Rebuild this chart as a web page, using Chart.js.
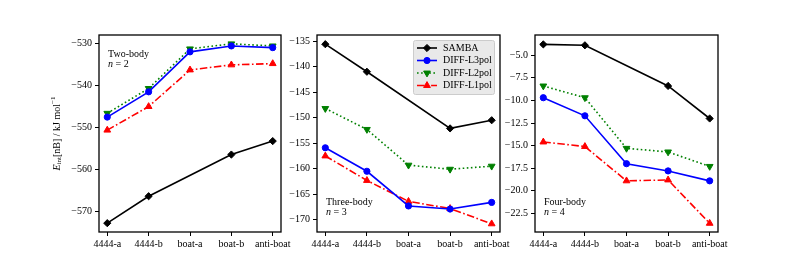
<!DOCTYPE html>
<html>
<head>
<meta charset="utf-8">
<script src="https://cdn.jsdelivr.net/npm/chart.js@4"></script>
<style>
  html, body { margin: 0; padding: 0; background: #fff; }
  body { width: 797px; height: 266px; position: relative; overflow: hidden; }
  canvas { position: absolute; }
</style>
</head>
<body>
<canvas id="c2" width="256" height="236" style="left:40px;top:26px"></canvas>
<canvas id="c3" width="238" height="236" style="left:277px;top:26px"></canvas>
<canvas id="c4" width="238" height="236" style="left:495px;top:26px"></canvas>
<script>
// categories on the x axis
const categories = ['4444-a', '4444-b', 'boat-a', 'boat-b', 'anti-boat'];

// two-body (n = 2)
const samba2 = [-572.7, -566.3, null, -556.4, -553.2];
const l3pol2 = [-547.5, -541.5, -532.0, -530.6, -531.0];
const l2pol2 = [-546.6, -540.7, -531.3, -530.1, -530.6];
const l1pol2 = [-550.6, -545.0, -536.3, -535.1, -534.8];

// three-body (n = 3)
const samba3 = [-135.6, -141.0, null, -152.1, -150.5];
const l3pol3 = [-155.9, -160.5, -167.3, -167.9, -166.6];
const l2pol3 = [-148.2, -152.3, -159.3, -160.1, -159.5];
const l1pol3 = [-157.5, -162.3, -166.4, -167.8, -170.8];

// four-body (n = 4)
const samba4 = [-3.8, -3.9, null, -8.4, -12.0];
const l3pol4 = [-9.7, -11.7, -17.0, -17.8, -18.9];
const l2pol4 = [-8.4, -9.7, -15.3, -15.7, -17.3];
const l1pol4 = [-14.6, -15.1, -18.9, -18.8, -23.6];

// tick labels
const yTicks2 = [-570, -560, -550, -540, -530];
const yTicks3 = [-170, -165, -160, -155, -150, -145, -140, -135];
const yTicks4 = [-22.5, -20, -17.5, -15, -12.5, -10, -7.5, -5];

const FONT = '"Liberation Serif", "DejaVu Serif", serif';
const FS = 10;

function toPoints(vals) {
    return categories.map((c, i) => ({ x: i, y: vals[i] }));
}

function makeDatasets(samba, l3, l2, l1) {
    return [
        { label: 'SAMBA', data: toPoints(samba), borderColor: '#000', backgroundColor: '#000',
          pointStyle: 'rectRot', pointRadius: 3.6 },
        { label: 'DIFF-L3pol', data: toPoints(l3), borderColor: '#0000ff', backgroundColor: '#0000ff',
          pointStyle: 'circle', pointRadius: 3.1 },
        { label: 'DIFF-L2pol', data: toPoints(l2), borderColor: '#008000', backgroundColor: '#008000',
          pointStyle: 'triangle', pointRotation: 180, pointRadius: 3.9, borderDash: [1.6, 2.5] },
        { label: 'DIFF-L1pol', data: toPoints(l1), borderColor: '#ff0000', backgroundColor: '#ff0000',
          pointStyle: 'triangle', pointRadius: 3.9, borderDash: [7.5, 2.5, 1.6, 2.5] }
    ].map(d => Object.assign({ borderWidth: 1.6, pointBorderWidth: 1, spanGaps: true, clip: false }, d));
}

function minusFmt(v, dec) {
    const s = Math.abs(v).toFixed(dec);
    return v < 0 ? '\u2212' + s : s;
}

// frame, panel label and (optionally) legend / axis title
const decorPlugin = {
    id: 'decor',
    afterDraw(chart, args, opts) {
        const ctx = chart.ctx;
        const a = chart.chartArea;
        ctx.save();
        ctx.strokeStyle = '#000';
        ctx.lineWidth = 1.3;
        ctx.strokeRect(a.left, a.top, a.right - a.left, a.bottom - a.top);

        // panel label
        ctx.fillStyle = '#000';
        ctx.textBaseline = 'middle';
        ctx.textAlign = 'left';
        const x = a.left + 9;
        const y1 = opts.where === 'top' ? a.top + 19 : a.bottom - 30;
        ctx.font = FS + 'px ' + FONT;
        ctx.fillText(opts.name, x, y1);
        ctx.font = 'italic ' + FS + 'px ' + FONT;
        ctx.fillText('n', x, y1 + 10);
        const nw = ctx.measureText('n').width;
        ctx.font = FS + 'px ' + FONT;
        ctx.fillText(' = ' + opts.n, x + nw, y1 + 10);

        if (opts.legend) drawLegend(chart);
        if (opts.yTitle) drawYTitle(chart);
        ctx.restore();
    }
};

function drawLegend(chart) {
    const ctx = chart.ctx;
    const a = chart.chartArea;
    const bx = a.right - 87, by = a.top + 5, bw = 81, bh = 54;
    ctx.save();
    ctx.fillStyle = 'rgba(232,232,232,0.95)';
    ctx.strokeStyle = '#cccccc';
    ctx.lineWidth = 1;
    ctx.beginPath();
    ctx.roundRect(bx + 0.5, by + 0.5, bw, bh, 2);
    ctx.fill();
    ctx.stroke();
    chart.data.datasets.forEach((d, i) => {
        const y = by + 8 + i * 12.5;
        ctx.strokeStyle = d.borderColor;
        ctx.fillStyle = d.backgroundColor;
        ctx.lineWidth = d.borderWidth;
        ctx.setLineDash(d.borderDash || []);
        ctx.beginPath();
        ctx.moveTo(bx + 4, y);
        ctx.lineTo(bx + 24, y);
        ctx.stroke();
        ctx.setLineDash([]);
        ctx.lineWidth = 1;
        Chart.helpers.drawPoint(ctx, {
            pointStyle: d.pointStyle, rotation: d.pointRotation || 0,
            radius: d.pointRadius, borderWidth: 1
        }, bx + 14, y);
        ctx.fillStyle = '#000';
        ctx.font = FS + 'px ' + FONT;
        ctx.textAlign = 'left';
        ctx.textBaseline = 'middle';
        ctx.fillText(d.label, bx + 30, y);
    });
    ctx.restore();
}

function drawYTitle(chart) {
    const ctx = chart.ctx;
    const a = chart.chartArea;
    const parts = [
        { t: 'E', f: 'italic ' + FS + 'px ' + FONT, dy: 0 },
        { t: 'int', f: (FS * 0.7) + 'px ' + FONT, dy: 2.5 },
        { t: '[nB] / kJ mol', f: FS + 'px ' + FONT, dy: 0 },
        { t: '\u22121', f: (FS * 0.7) + 'px ' + FONT, dy: -4 }
    ];
    ctx.save();
    let total = 0;
    parts.forEach(p => { ctx.font = p.f; p.w = ctx.measureText(p.t).width; total += p.w; });
    ctx.translate(17, (a.top + a.bottom) / 2);
    ctx.rotate(-Math.PI / 2);
    ctx.fillStyle = '#000';
    ctx.textBaseline = 'middle';
    ctx.textAlign = 'left';
    let x = -total / 2;
    parts.forEach(p => { ctx.font = p.f; ctx.fillText(p.t, x, p.dy); x += p.w; });
    ctx.restore();
}

function makeChart(id, datasets, yTicks, yMin, yMax, dec, yWidth, decor) {
    const tickFont = { family: FONT, size: FS };
    return new Chart(document.getElementById(id), {
        type: 'line',
        data: { datasets: datasets },
        plugins: [decorPlugin],
        options: {
            responsive: false,
            animation: false,
            devicePixelRatio: 1,
            layout: { padding: { top: 5, right: 15, bottom: 0, left: 0 } },
            plugins: { legend: { display: false }, tooltip: { enabled: false }, decor: decor },
            scales: {
                x: {
                    type: 'linear', min: -0.2, max: 4.2,
                    afterBuildTicks: s => { s.ticks = categories.map((c, i) => ({ value: i })); },
                    afterFit: s => { s.height = 30; },
                    border: { display: false },
                    grid: { drawOnChartArea: false, drawTicks: true, tickLength: 4, color: '#000', lineWidth: 1 },
                    ticks: { color: '#000', font: tickFont, padding: 2, maxRotation: 0,
                             callback: v => categories[v] }
                },
                y: {
                    min: yMin, max: yMax,
                    afterBuildTicks: s => { s.ticks = yTicks.map(v => ({ value: v })); },
                    afterFit: s => { s.width = yWidth; },
                    border: { display: false },
                    grid: { drawOnChartArea: false, drawTicks: true, tickLength: 4, color: '#000', lineWidth: 1 },
                    ticks: { color: '#000', font: tickFont, padding: 3,
                             callback: v => minusFmt(v, dec) }
                }
            }
        }
    });
}

makeChart('c2', makeDatasets(samba2, l3pol2, l2pol2, l1pol2), yTicks2, -574.8, -528.0, 0, 59,
    { name: 'Two-body', n: 2, where: 'top', yTitle: true });
makeChart('c3', makeDatasets(samba3, l3pol3, l2pol3, l1pol3), yTicks3, -172.4, -133.8, 0, 40,
    { name: 'Three-body', n: 3, where: 'bottom', legend: true });
makeChart('c4', makeDatasets(samba4, l3pol4, l2pol4, l1pol4), yTicks4, -24.56, -2.76, 1, 40,
    { name: 'Four-body', n: 4, where: 'bottom' });
</script>
</body>
</html>
